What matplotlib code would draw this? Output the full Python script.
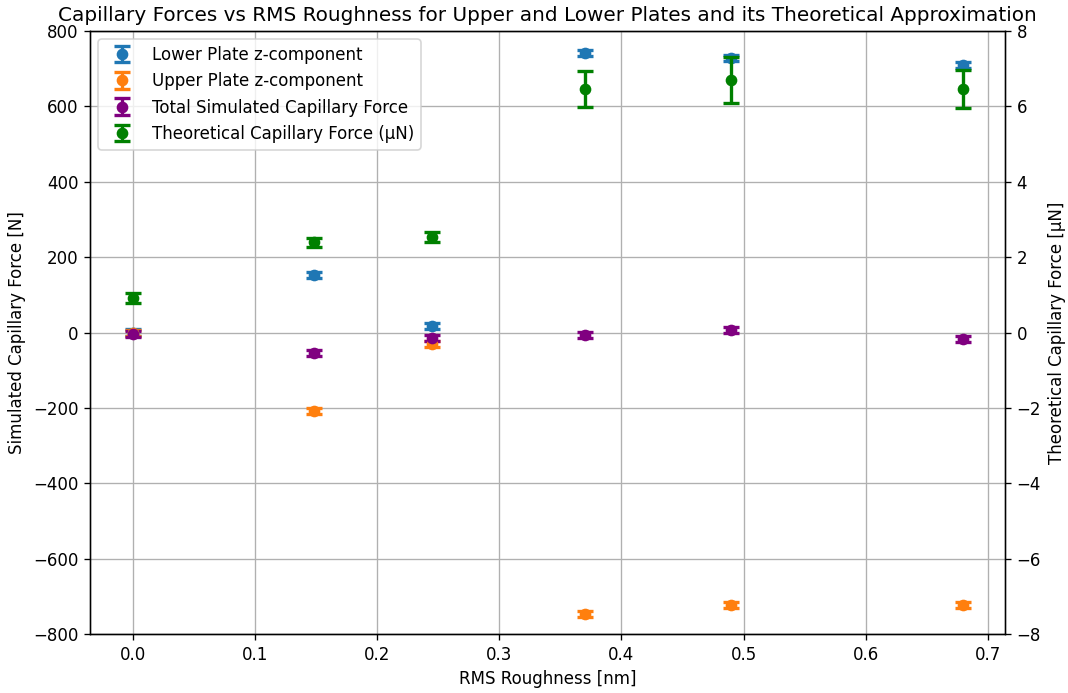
import matplotlib
matplotlib.use("Agg")
import matplotlib.pyplot as plt

rms = [0.0, 0.148, 0.245, 0.370, 0.490, 0.680]
lower = [0, 152, 17, 741, 728, 709]
lower_err = [8, 8, 8, 8, 8, 8]
upper = [-2, -208, -30, -747, -723, -723]
upper_err = [8, 8, 8, 8, 8, 8]
total = [-3, -54, -15, -7, 7, -17]
total_err = [8, 8, 8, 8, 8, 8]
theory = [0.91, 2.40, 2.53, 6.46, 6.70, 6.46]
theory_err = [0.14, 0.12, 0.14, 0.48, 0.62, 0.50]

fig, ax = plt.subplots(figsize=(8.9, 5.775), dpi=120)
ax2 = ax.twinx()

h1 = ax.errorbar(rms, lower, yerr=lower_err, fmt='o', color='C0', capsize=5, capthick=2, elinewidth=2,
                 label='Lower Plate z-component')
h2 = ax.errorbar(rms, upper, yerr=upper_err, fmt='o', color='C1', capsize=5, capthick=2, elinewidth=2,
                 label='Upper Plate z-component')
h3 = ax.errorbar(rms, total, yerr=total_err, fmt='o', color='purple', capsize=5, capthick=2, elinewidth=2,
                 label='Total Simulated Capillary Force')
h4 = ax2.errorbar(rms, theory, yerr=theory_err, fmt='o', color='green', capsize=5, capthick=2, elinewidth=2,
                  label='Theoretical Capillary Force (µN)')

ax.set_ylim(-800, 800)
ax2.set_ylim(-8, 8)
ax.set_xlim(-0.035, 0.714)
ax.grid(True)
ax.set_xlabel('RMS Roughness [nm]')
ax.set_ylabel('Simulated Capillary Force [N]')
ax2.set_ylabel('Theoretical Capillary Force [µN]')
ax.set_title('Capillary Forces vs RMS Roughness for Upper and Lower Plates and its Theoretical Approximation')
ax.legend(handles=[h1, h2, h3, h4], loc='upper left')
fig.subplots_adjust(left=0.0843, right=0.941, top=0.9553, bottom=0.0851)
fig.savefig('out.png', dpi=120)
